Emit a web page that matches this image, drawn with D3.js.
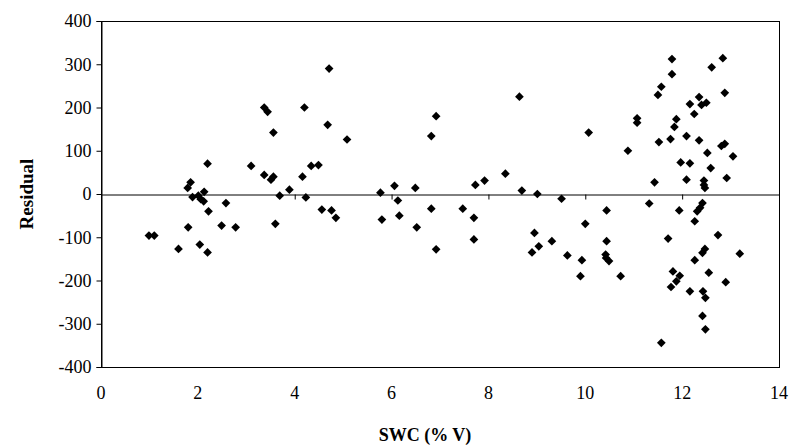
<!DOCTYPE html>
<html>
<head>
<meta charset="utf-8">
<script src="https://cdn.jsdelivr.net/npm/d3@7"></script>
<style>
  html, body { margin: 0; padding: 0; background: #fff; }
  svg { display: block; }
  text { font-family: "Liberation Serif", "Times New Roman", serif; fill: #000; }
</style>
</head>
<body>
<svg id="chart" width="794" height="446"></svg>
<script>
// ---- data ----
const swc = [
  0.99, 1.10, 1.60, 1.80, 2.04, 2.20, 1.85, 1.79, 1.89, 2.01, 2.13, 2.06, 2.12, 2.58, 2.22, 2.49, 2.78, 2.20, 3.10,
  3.37, 3.44, 4.20, 4.71, 4.68, 3.56, 3.37, 3.51, 3.56, 4.16, 4.34, 4.49, 3.89, 3.69, 4.23, 3.60, 4.56, 4.76, 4.85,
  5.08, 6.82, 6.92, 8.64, 5.77, 6.06, 6.49, 7.73, 7.92, 8.35, 8.69, 9.01, 9.51,
  6.13, 5.80, 6.16, 6.52, 6.82, 6.92, 7.47, 7.70, 7.70, 8.95, 9.04, 8.90, 9.31, 9.63,
  10.44, 10.00, 10.44, 9.93, 9.90, 10.42, 10.43, 10.49, 10.73,
  10.07, 10.88, 11.07, 11.07,
  11.79, 11.79, 11.57, 11.50, 12.84, 12.61, 12.88, 12.35, 12.40, 12.50, 12.16, 12.25, 11.88, 11.84, 11.52, 11.76,
  12.09, 12.35, 12.52, 12.81, 12.88, 13.05, 11.97, 12.16, 12.59, 11.43, 12.09, 12.45, 12.45, 12.47, 12.92,
  11.32, 11.94, 12.42, 12.37, 12.31, 12.26, 12.74, 11.71, 13.19, 12.47, 12.42, 12.26, 12.55, 12.90, 11.81, 11.95,
  11.88, 11.77, 12.16, 12.43, 12.48, 12.42, 12.48, 11.57
];
const residual = [
  -96, -96, -127, -77, -117, -135, 27, 14, -7, -4, 5, -12, -17, -21, -40, -73, -77, 70, 65,
  200, 190, 200, 290, 160, 142, 44, 33, 40, 40, 65, 67, 10, -4, -8, -69, -36, -38, -55,
  126, 134, 180, 225, 3, 19, 14, 21, 31, 47, 8, 0, -11,
  -15, -59, -50, -77, -34, -128, -34, -55, -105, -90, -121, -135, -109, -142,
  -38, -69, -109, -153, -190, -140, -148, -155, -190,
  142, 100, 175, 165,
  312, 277, 248, 229, 314, 293, 234, 224, 206, 211, 208, 185, 173, 155, 120, 127,
  134, 124, 95, 111, 116, 87, 73, 71, 60, 27, 33, 31, 21, 14, 37,
  -22, -38, -21, -32, -40, -63, -95, -103, -138, -127, -136, -153, -182, -204, -179, -189,
  -202, -215, -225, -225, -240, -282, -313, -344
];
const xTicks = [0, 2, 4, 6, 8, 10, 12, 14];
const yTicks = [-400, -300, -200, -100, 0, 100, 200, 300, 400];
const xTitle = "SWC (% V)";
const yTitle = "Residual";

// ---- layout ----
const svg = d3.select("#chart");
const L = 101, R = 779, T = 21, B = 367;
const FONT = '"Liberation Serif", "Times New Roman", serif';

const x = d3.scaleLinear().domain([0, 14]).range([L, R]);
const y = d3.scaleLinear().domain([-400, 400]).range([B, T]);

// plot frame
svg.append("rect")
  .attr("x", L + 0.5).attr("y", T + 0.5)
  .attr("width", R - L).attr("height", B - T)
  .attr("fill", "none").attr("stroke", "#000").attr("stroke-width", 1);

// y axis (left)
const yAxis = d3.axisLeft(y).tickValues(yTicks).tickSize(5).tickPadding(5).tickFormat(d => String(d));
const gy = svg.append("g").attr("transform", `translate(${L + 0.5},0)`).call(yAxis);
gy.attr("font-family", null).attr("font-size", null);
gy.select(".domain").attr("stroke", "#000");
gy.selectAll(".tick line").attr("stroke", "#000");
gy.selectAll(".tick text")
  .style("font-family", FONT)
  .style("font-size", "18px").attr("fill", "#000");

// x axis: line at y = 0 with ticks, labels at bottom
const gx = svg.append("g").attr("transform", `translate(0,${Math.round(y(0)) + 0.5})`)
  .call(d3.axisBottom(x).tickValues(xTicks).tickSize(5).tickFormat(() => ""));
gx.select(".domain").attr("stroke", "#000");
gx.selectAll(".tick line").attr("stroke", "#000");

// x tick labels below the frame
svg.append("g").selectAll("text").data(xTicks).join("text")
  .attr("x", d => x(d))
  .attr("y", B + 32)
  .attr("text-anchor", "middle")
  .style("font-family", FONT)
  .style("font-size", "18px")
  .text(d => d);

// axis titles
svg.append("text")
  .attr("x", 425).attr("y", B + 74)
  .attr("text-anchor", "middle")
  .style("font-family", FONT)
  .style("font-size", "18px").style("font-weight", "bold")
  .text(xTitle);

svg.append("text")
  .attr("transform", `translate(33,${y(0)}) rotate(-90)`)
  .attr("text-anchor", "middle")
  .style("font-family", FONT)
  .style("font-size", "19px").style("font-weight", "bold")
  .text(yTitle);

// points (diamonds)
const diamond = d3.symbol().type(d3.symbolSquare).size(38);
svg.append("g").selectAll("path")
  .data(swc.map((v, i) => [v, residual[i]]))
  .join("path")
  .attr("d", diamond)
  .attr("transform", d => `translate(${x(d[0])},${y(d[1])}) rotate(45)`)
  .attr("fill", "#000");
</script>
</body>
</html>
